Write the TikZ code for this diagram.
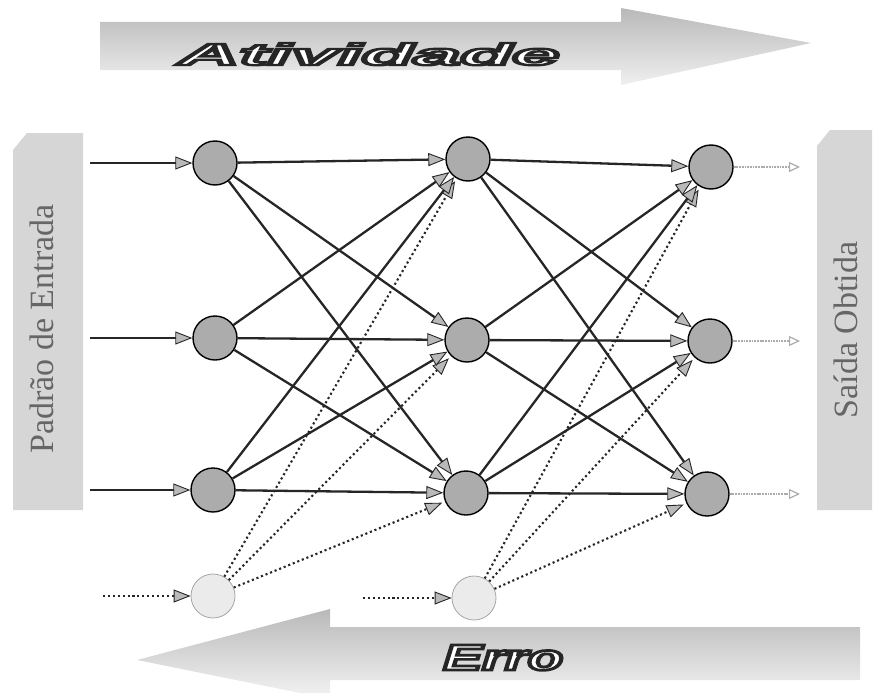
\documentclass[tikz,border=0pt]{standalone}
\usepackage{fontspec}
\setmainfont{Liberation Serif}
\newfontfamily\artfont{Liberation Sans}
\usepackage{graphicx}
\usetikzlibrary{arrows.meta}
\newcommand\artwordbox[3]{\resizebox{#1}{#2}{\special{pdf:literal direct 2 Tr 0.75 w 0.15 0.15 0.15 RG}\artfont\bfseries\itshape #3\special{pdf:literal direct 0 Tr}}}
\tikzset{
  neuron/.style={circle, draw=black, line width=1.4pt, fill=gray!65, minimum size=44pt, inner sep=0pt},
  biasnode/.style={circle, draw=gray!70, line width=0.8pt, fill=gray!16, minimum size=44pt, inner sep=0pt},
  conn/.style={draw=black!85, line width=2.3pt, -{Triangle[length=17pt,width=13pt,fill=gray!55,line width=0.9pt]}},
  bconn/.style={draw=black!85, line width=2.1pt, dash pattern=on 2.1pt off 2.8pt, -{Triangle[length=17pt,width=13pt,fill=gray!55,line width=0.9pt]}, shorten >=3pt},
  outconn/.style={draw=gray!65, line width=1.8pt, dash pattern=on 1.8pt off 0.9pt, -{Triangle[open,length=11pt,width=10pt,line width=1.2pt]}},
  sidebox/.style={fill=gray!32, draw=none},
  sidetext/.style={rotate=90, anchor=base, text=black!60, inner sep=0pt, font=\fontsize{34}{40}\selectfont},
  artlayer/.style={anchor=base west, inner sep=0pt},
}
\begin{document}
\begin{tikzpicture}[x=1pt,y=-1pt]
\useasboundingbox (0,0) rectangle (874,693);

% flow arrows
\shade[top color=gray!55, bottom color=gray!12] (100,22) -- (621,22) -- (621,8) -- (811,43) -- (621,85) -- (621,70) -- (100,70) -- cycle;
\shade[top color=gray!55, bottom color=gray!12] (860,627) -- (330,627) -- (330,609) -- (137,660) -- (300,693) -- (330,693) -- (330,680) -- (860,680) -- cycle;

% word art texts
\node[artlayer, text=white] (atxt) at (178,65) {\artwordbox{381pt}{22pt}{Atividade}};
\node[artlayer, text=white] (etxt) at (443,670) {\artwordbox{120pt}{25pt}{Erro}};

% side boxes
\fill[sidebox] (27,133) -- (83,133) -- (83,510) -- (13,510) -- (13,150) -- cycle;
\fill[sidebox] (830,130) -- (872,130) -- (872,510) -- (817,510) -- (817,146) -- cycle;
\node[sidetext] (pin) at (53,329) {Padrão de Entrada};
\node[sidetext] (sout) at (857,330) {Saída Obtida};

% neurons
\node[neuron] (A1) at (215,163) {};
\node[neuron] (A2) at (215,338) {};
\node[neuron] (A3) at (213,490) {};
\node[neuron] (B1) at (468,159) {};
\node[neuron] (B2) at (467,340) {};
\node[neuron] (B3) at (466,493) {};
\node[neuron] (C1) at (711,167) {};
\node[neuron] (C2) at (710,341) {};
\node[neuron] (C3) at (707,494) {};
\node[biasnode] (b1) at (213,596) {};
\node[biasnode] (b2) at (474,598) {};

% inputs
\coordinate (in1) at (90,163);
\coordinate (in2) at (90,338);
\coordinate (in3) at (90,490);
\coordinate (bin1) at (103,596);
\coordinate (bin2) at (363,598);
\draw[conn] (in1) -- (A1);
\draw[conn] (in2) -- (A2);
\draw[conn] (in3) -- (A3);
\draw[bconn, shorten >=0pt] (bin1) -- (b1);
\draw[bconn, shorten >=0pt] (bin2) -- (b2);

% bias connections
\foreach \t in {B1,B2,B3} \draw[bconn] (b1) -- (\t);
\foreach \t in {C1,C2,C3} \draw[bconn] (b2) -- (\t);

% full connections
\foreach \s in {A1,A2,A3} \foreach \t in {B1,B2,B3} \draw[conn] (\s) -- (\t);
\foreach \s in {B1,B2,B3} \foreach \t in {C1,C2,C3} \draw[conn] (\s) -- (\t);

% outputs
\coordinate (out1) at (800,167);
\coordinate (out2) at (800,341);
\coordinate (out3) at (800,494);
\draw[outconn] (C1) -- (out1);
\draw[outconn] (C2) -- (out2);
\draw[outconn] (C3) -- (out3);
\end{tikzpicture}
\end{document}
